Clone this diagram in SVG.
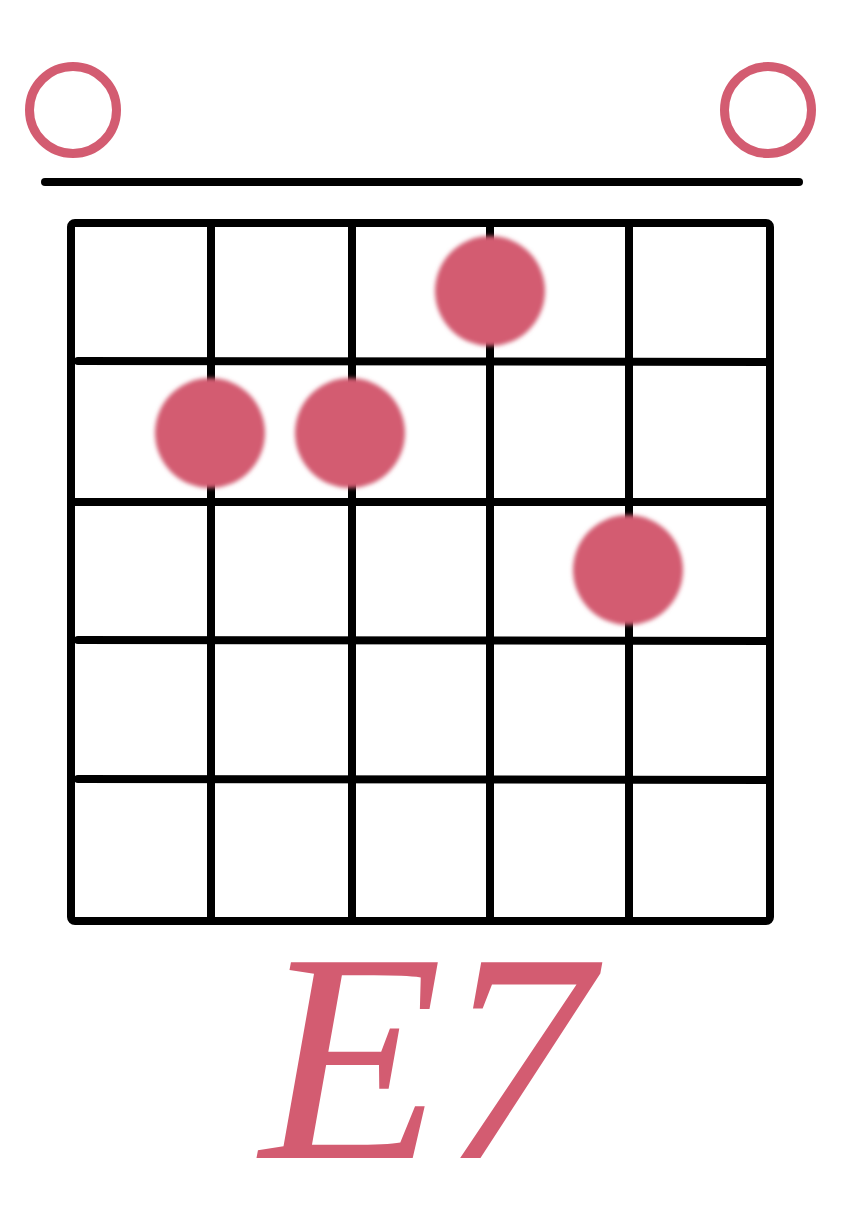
<svg xmlns="http://www.w3.org/2000/svg" width="843" height="1224" viewBox="0 0 843 1224">
<style>
.open{fill:none;stroke:#d35c71;stroke-width:9}
.dot{fill:#d35c71;filter:url(#soft)}
.grid{stroke:#000;stroke-width:8;fill:none;stroke-linecap:round}
.label{font-family:"Liberation Serif","Times New Roman",serif;font-style:italic;font-size:299px;fill:#d35c71}
</style>
<defs>
<filter id="soft" x="-20%" y="-20%" width="140%" height="140%"><feGaussianBlur stdDeviation="2.2"/></filter>
</defs>
<rect width="843" height="1224" fill="#fff"/>
<g id="nut"><line class="grid" x1="45" y1="182" x2="799" y2="182"/></g>
<g id="fretboard">
<rect class="grid" x="71" y="223" width="699" height="698" rx="4"/>
<line class="grid" x1="211" y1="223" x2="211" y2="921"/>
<line class="grid" x1="352" y1="223" x2="352" y2="921"/>
<line class="grid" x1="490" y1="223" x2="490" y2="921"/>
<line class="grid" x1="629" y1="223" x2="629" y2="921"/>
<line class="grid" x1="78" y1="361" x2="770" y2="362"/>
<line class="grid" x1="71" y1="502" x2="770" y2="502"/>
<line class="grid" x1="78" y1="640" x2="770" y2="641"/>
<line class="grid" x1="78" y1="779" x2="770" y2="780"/>
</g>
<g id="open-strings">
<circle class="open" cx="73" cy="110" r="43.5"/>
<circle class="open" cx="768" cy="110" r="43.5"/>
</g>
<g id="fingers">
<circle class="dot" cx="490" cy="291" r="55"/>
<circle class="dot" cx="210" cy="433" r="55"/>
<circle class="dot" cx="350" cy="433" r="55"/>
<circle class="dot" cx="628" cy="570" r="55"/>
</g>
<g id="title"><text class="label" x="260" y="1158">E7</text></g>
</svg>
